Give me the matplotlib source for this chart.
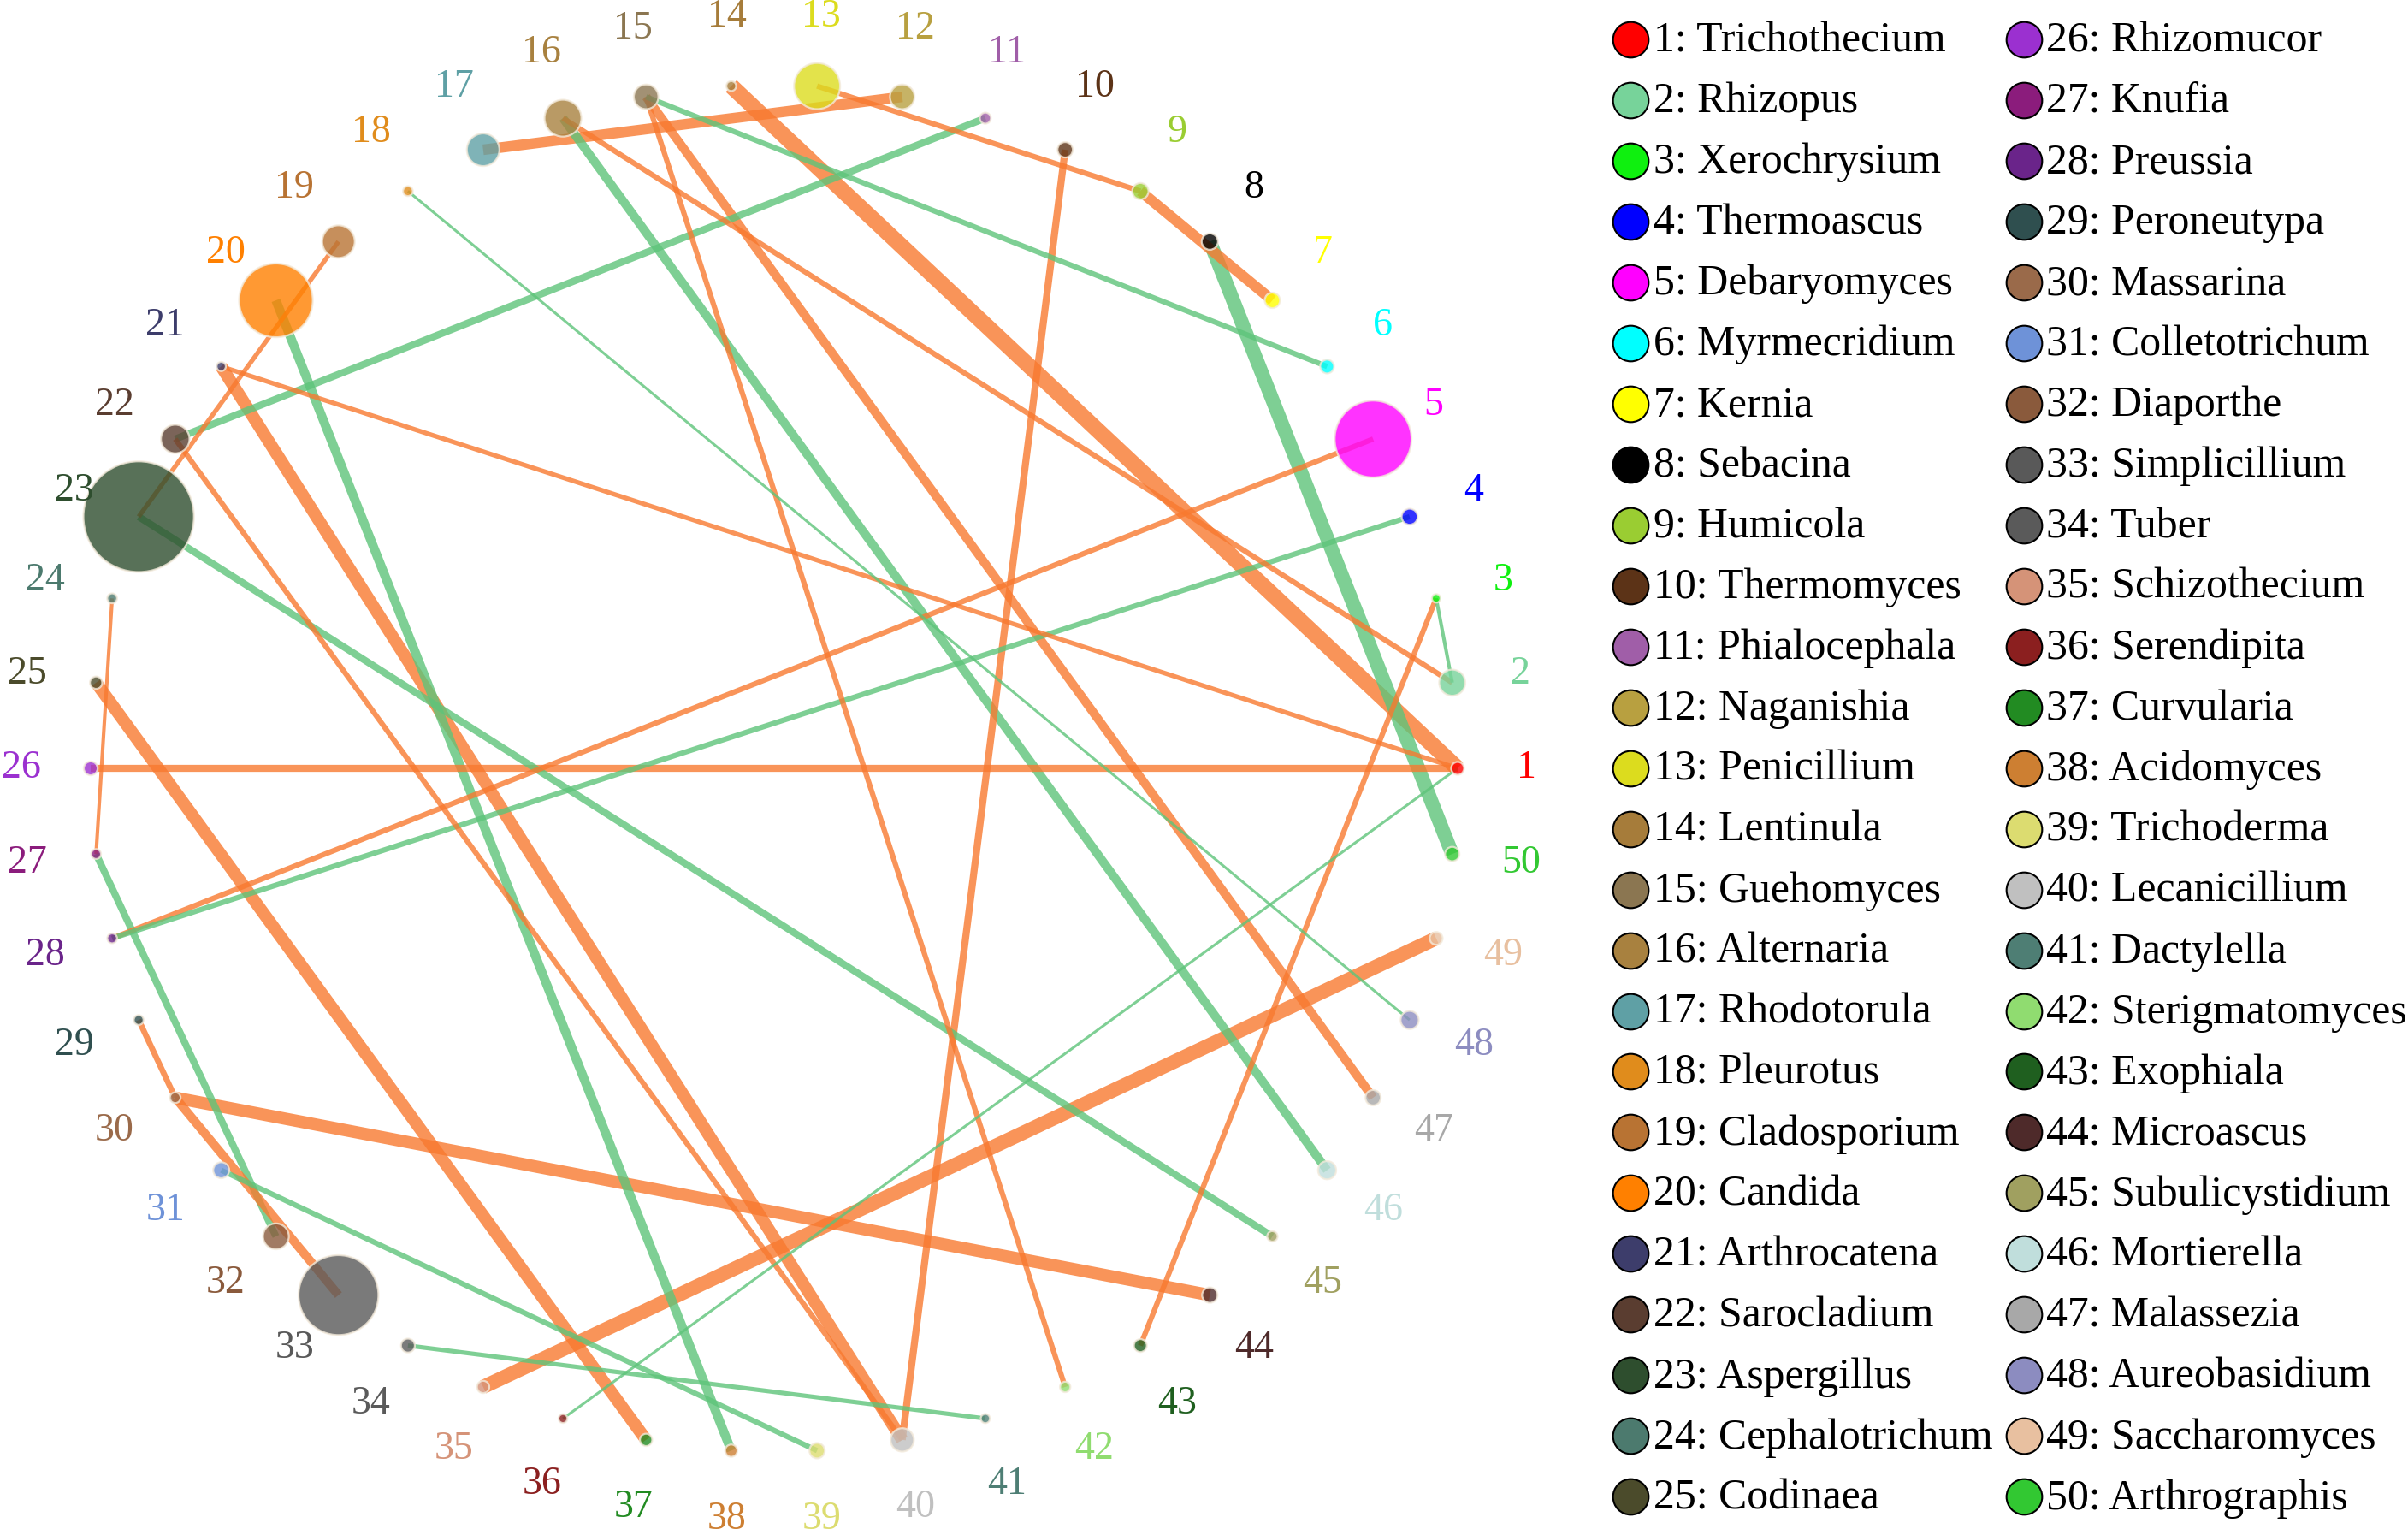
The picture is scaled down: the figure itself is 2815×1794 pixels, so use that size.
import numpy as np
import matplotlib
matplotlib.use("Agg")
import matplotlib.pyplot as plt

# ---------------- data ----------------
genera = ["Trichothecium", "Rhizopus", "Xerochrysium", "Thermoascus", "Debaryomyces",
          "Myrmecridium", "Kernia", "Sebacina", "Humicola", "Thermomyces",
          "Phialocephala", "Naganishia", "Penicillium", "Lentinula", "Guehomyces",
          "Alternaria", "Rhodotorula", "Pleurotus", "Cladosporium", "Candida",
          "Arthrocatena", "Sarocladium", "Aspergillus", "Cephalotrichum", "Codinaea",
          "Rhizomucor", "Knufia", "Preussia", "Peroneutypa", "Massarina",
          "Colletotrichum", "Diaporthe", "Simplicillium", "Tuber", "Schizothecium",
          "Serendipita", "Curvularia", "Acidomyces", "Trichoderma", "Lecanicillium",
          "Dactylella", "Sterigmatomyces", "Exophiala", "Microascus", "Subulicystidium",
          "Mortierella", "Malassezia", "Aureobasidium", "Saccharomyces", "Arthrographis"]

node_colors = ["#FF0000", "#77D39A", "#0FF00F", "#0000FF", "#FF00FF",
               "#00FFFF", "#FFFF00", "#000000", "#9ACD32", "#5C3317",
               "#A05EA8", "#B8A040", "#DCDC1E", "#A67C3A", "#8B7651",
               "#A8813F", "#5FA0A5", "#E08C1C", "#B87333", "#FF8000",
               "#3D3D6B", "#5A3D30", "#2E4E2E", "#4C7A6E", "#4B4B2B",
               "#9B30D0", "#8B1C7C", "#6A248A", "#2F4F4F", "#9A6A4A",
               "#6E92D8", "#8A5A3C", "#595959", "#5A5A5A", "#D59378",
               "#8B1F1F", "#228B22", "#CD7F32", "#DCDC70", "#C0C0C0",
               "#4E7E74", "#90DC70", "#1F5F1F", "#4E2A2A", "#A0A060",
               "#C0DEDC", "#A8A8A8", "#8C8CC0", "#E8C0A0", "#32C832"]

# node size (relative abundance, drawn as radius)
node_size = [4.2, 8.5, 2.8, 5.2, 25, 4.5, 5, 5.3, 5.3, 5,
             3.6, 8, 15, 3.2, 8, 12, 10.6, 3.2, 10.6, 24,
             3, 9.3, 36, 3.2, 4, 4.5, 3.2, 3.2, 3.2, 3.5,
             5.2, 8.4, 26, 4.5, 4, 2.9, 4, 4, 5, 7.6,
             3, 3.4, 4.2, 5, 3.4, 5.9, 5, 5.9, 4.2, 4.7]

# edges: source, target, weight, sign (+1 positive / -1 negative correlation)
edge_src = [14, 8, 17, 49, 30, 25, 9, 21, 16, 20, 15, 26, 10, 22, 23, 27, 13,
            5, 4, 16, 15, 15, 3, 21, 22, 30, 31, 34, 19, 29, 24, 3, 18, 36]
edge_dst = [1, 50, 12, 35, 44, 37, 7, 40, 46, 38, 47, 1, 40, 11, 45, 32, 9,
            28, 28, 2, 42, 6, 43, 1, 40, 33, 39, 41, 23, 30, 27, 2, 48, 1]
edge_weight = [9, 8, 6, 8, 7, 7, 6, 7, 5, 5.2, 5, 4, 4, 4, 4, 4, 3,
               3, 3, 3, 3, 3, 3, 2.6, 3, 5, 3, 2.5, 2.6, 3.3, 2, 2, 1.5, 1.5]
edge_sign = [1, -1, 1, 1, 1, 1, 1, 1, -1, -1, 1, 1, 1, -1, -1, -1, 1,
             1, -1, 1, 1, -1, 1, 1, 1, 1, -1, -1, 1, 1, 1, -1, -1, -1]

# ---------------- figure ----------------
W, H = 2815, 1794
DPI = 100
fig = plt.figure(figsize=(W / DPI, H / DPI), dpi=DPI)

serif = ["Liberation Serif", "DejaVu Serif"]

# network axes: circle centre at (905, 898) px from top-left, radius 799 px
cx, cy, R = 905.0, 898.0, 799.0
ax_w = 1810.0
ax = fig.add_axes([0, 0, ax_w / W, 1])
ax.set_xlim(-cx / R, (ax_w - cx) / R)
ax.set_ylim(-(H - cy) / R, cy / R)
ax.axis("off")

n = len(genera)
ang = np.deg2rad(np.arange(n) * 360.0 / n)
xs, ys = np.cos(ang), np.sin(ang)

px_to_pt = 1.795 * 72.0 / DPI   # reference display px -> points
edge_scale = 1.15

col_pos = "#F8792F"
col_neg = "#5EC47A"
for s, t, w, sg in zip(edge_src, edge_dst, edge_weight, edge_sign):
    ax.plot([xs[s - 1], xs[t - 1]], [ys[s - 1], ys[t - 1]],
            color=col_pos if sg > 0 else col_neg, alpha=0.8,
            lw=w * px_to_pt * edge_scale, solid_capstyle="butt", zorder=1)

sizes = [(2 * r * px_to_pt) ** 2 for r in node_size]
ax.scatter(xs, ys, s=sizes, c=node_colors, alpha=0.8,
           edgecolors="#F3EADB", linewidths=1.6, zorder=3)

lab_r = 1.101
for i in range(n):
    ax.text(lab_r * xs[i], lab_r * ys[i], str(i + 1), color=node_colors[i],
            fontsize=33, family=serif, ha="center", va="center", zorder=4)

# ---------------- legend ----------------
axl = fig.add_axes([0, 0, 1, 1])
axl.set_xlim(0, W)
axl.set_ylim(H, 0)
axl.axis("off")
axl.patch.set_alpha(0)

row0, dy = 46.0, 70.97
col_marker = [1906.0, 2366.0]
col_text = [1933.0, 2392.0]
for i in range(n):
    c = i // 25
    r = i % 25
    y = row0 + r * dy
    axl.scatter([col_marker[c]], [y], s=900, c=[node_colors[i]],
                edgecolors="black", linewidths=1.5, zorder=3)
    axl.text(col_text[c], y + 2, f"{i + 1}: {genera[i]}", fontsize=35.8,
             family=serif, ha="left", va="center", color="black")

fig.savefig("out.png", dpi=DPI, facecolor="white")
